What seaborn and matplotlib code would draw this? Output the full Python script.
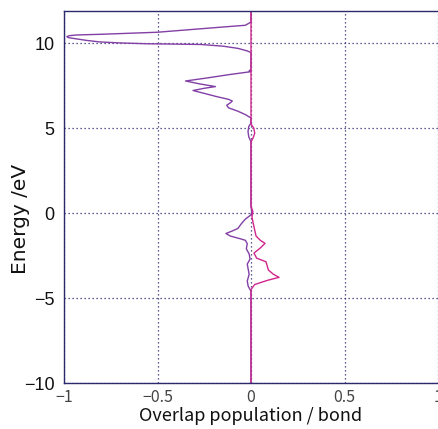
import matplotlib
matplotlib.use("Agg")
import matplotlib.pyplot as plt
import seaborn as sns
import pandas as pd

# ==============================================================================
# 1. COOP CURVES (energy in eV, overlap population per bond)
# ==============================================================================
energy_a = [12.0, 11.25, 11.06, 10.94, 10.65, 10.53, 10.49, 10.45, 10.39, 10.33,
            10.27, 10.17, 10.08, 10.02, 9.97, 9.95, 9.93, 9.83, 9.7, 9.55, 9.45,
            8.45, 8.38, 8.33, 8.15, 7.95, 7.78, 7.6, 7.45, 7.35, 7.22,
            7.05, 6.85, 6.7, 6.6, 6.5, 6.35, 6.2, 6.0, 5.8, 5.6,
            5.3, 5.1, 4.8, 4.5, 4.2,
            0.4, 0.1, -0.1, -0.35, -0.6, -0.9, -1.05, -1.2, -1.35, -1.5, -1.6,
            -1.8, -2.1, -2.4, -2.7, -3.0, -3.3, -3.6, -4.0, -4.3, -4.6, -10.0]
coop_a = [0.0, 0.0, -0.03, -0.17, -0.5, -0.8, -0.93, -0.97, -0.985, -0.975,
          -0.94, -0.88, -0.81, -0.7, -0.55, -0.4, -0.27, -0.15, -0.07, -0.02, 0.0,
          0.0, -0.01, 0.0, -0.12, -0.24, -0.35, -0.27, -0.19, -0.25, -0.31,
          -0.25, -0.18, -0.12, -0.10, -0.11, -0.13, -0.12, -0.07, -0.03, 0.0,
          0.0, -0.012, -0.016, -0.012, 0.0,
          0.0, 0.004, 0.0, -0.03, -0.05, -0.07, -0.10, -0.134, -0.11, -0.06, -0.03,
          -0.02, -0.025, -0.01, -0.005, -0.02, -0.015, -0.01, -0.02, -0.015, 0.0, 0.0]

energy_b = [12.0, 5.3, 5.25, 5.0, 4.7, 4.4, 4.2,
            0.4, 0.1, -0.2, -0.5, -0.8, -1.35, -1.6, -1.78, -2.05, -2.35,
            -2.65, -2.86, -3.35, -3.6, -3.78, -3.95, -4.2, -4.5, -10.0]
coop_b = [0.0, 0.0, 0.0, 0.015, 0.02, 0.01, 0.0,
          0.0, 0.01, 0.005, 0.01, 0.016, 0.027, 0.05, 0.075, 0.05, 0.016,
          0.03, 0.08, 0.093, 0.12, 0.15, 0.09, 0.02, 0.0, 0.0]

x_ticks = [-1, -0.5, 0, 0.5, 1]
x_tick_labels = ['\u22121', '\u22120.5', '0', '0.5', '1']
y_ticks = [-10, -5, 0, 5, 10]
y_tick_labels = ['\u221210', '\u22125', '0', '5', '10']

df_a = pd.DataFrame({'energy': energy_a, 'coop': coop_a})
df_b = pd.DataFrame({'energy': energy_b, 'coop': coop_b})

# ==============================================================================
# 2. FIGURE
# ==============================================================================
sns.set_theme(style="white")
fig = plt.figure(figsize=(4.38, 4.29), dpi=100)
ax = fig.add_axes([64 / 438, 46 / 429, 374 / 438, 372 / 429])

navy = '#2c2a6e'
sns.lineplot(data=df_a, x='coop', y='energy', sort=False, estimator=None,
             color='#823fa6', linewidth=1.0, ax=ax)
sns.lineplot(data=df_b, x='coop', y='energy', sort=False, estimator=None,
             color='#d0268e', linewidth=1.0, ax=ax)

ax.set_xlim(-1, 1)
ax.set_ylim(-10, 11.9)
ax.set_xticks(x_ticks)
ax.set_xticklabels(x_tick_labels, family=['Noto Sans CJK JP', 'DejaVu Sans'],
                   fontsize=11.5, color='#444444')
ax.set_yticks(y_ticks)
ax.set_yticklabels(y_tick_labels, family=['Liberation Sans', 'DejaVu Sans'],
                   fontsize=13, color='#111111')
ax.tick_params(axis='y', length=0, pad=7)
ax.tick_params(axis='x', length=0, pad=4)

ax.grid(True, linestyle=(0, (1, 2.2)), color=navy, linewidth=0.9)
for side in ['left', 'bottom', 'top']:
    ax.spines[side].set_color(navy)
    ax.spines[side].set_linewidth(1.0)
ax.spines['right'].set_visible(False)

ax.set_xlabel('Overlap population / bond', family=['Noto Sans CJK JP', 'DejaVu Sans'],
              fontsize=13, color='#111111', labelpad=1)
ax.set_ylabel('Energy /eV', family=['DejaVu Sans'],
              fontsize=14.5, color='#111111')
ax.yaxis.set_label_coords(-0.09, 0.44)

fig.savefig('out.png', dpi=100)
